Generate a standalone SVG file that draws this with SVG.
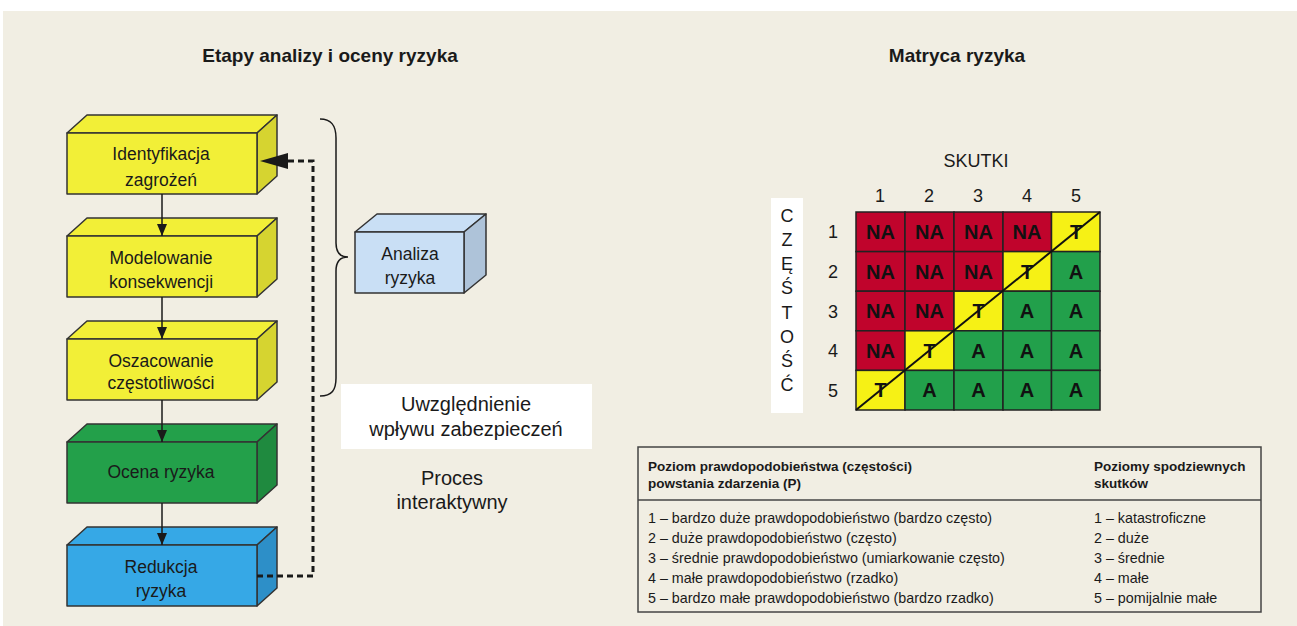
<svg xmlns="http://www.w3.org/2000/svg" width="1297" height="626" viewBox="0 0 1297 626">
<defs>
<style>
.t{font-family:"Liberation Sans",Arial,sans-serif;fill:#1a1a1a}
.title{font-size:19px;font-weight:bold;text-anchor:middle}
.nt{font-size:17.5px;text-anchor:middle}
.bx{stroke:#333;stroke-width:1.5;stroke-linejoin:round}
.y1{fill:#F2EF37}.y2{fill:#D6D430}
.g1{fill:#23A04A}.g2{fill:#1F8A3F}
.b1{fill:#36A8E6}.b2{fill:#2D8FC8}
.l1{fill:#C9DFF5}.l2{fill:#AEC3D9}
.na{fill:#C0042C}.ty{fill:#F6F115}.ag{fill:#22A04B}
.cell{stroke:#222;stroke-width:1.5}
.ct{font-size:20px;font-weight:bold;text-anchor:middle;fill:#111}
.ax{font-size:18px;text-anchor:middle}
.tb{font-size:14.3px}
.th{font-size:13.5px;font-weight:bold}
.arr{stroke:#1a1a1a;stroke-width:1.5;fill:none}
.dash{stroke:#1a1a1a;stroke-width:3;fill:none;stroke-dasharray:6 4}
</style>
<marker id="ah" viewBox="0 0 12 10" refX="12" refY="5" markerWidth="12" markerHeight="10" markerUnits="userSpaceOnUse" orient="auto">
<path d="M0,0 L12,5 L0,10 z" fill="#1a1a1a"/>
</marker>
</defs>
<rect x="0" y="0" width="1297" height="626" fill="#ffffff"/>
<rect x="3" y="11" width="1294" height="615" fill="#F1EEE3"/>

<text class="t title" x="330" y="62">Etapy analizy i oceny ryzyka</text>
<text class="t title" x="957" y="62">Matryca ryzyka</text>

<g id="n1">
<polygon class="bx y1" points="67,133 87,115 277,115 257,133"/>
<polygon class="bx y2" points="257,133 277,115 277,176 257,194"/>
<rect class="bx y1" x="67" y="133" width="190" height="61"/>
<text class="t nt" x="161" y="160">Identyfikacja</text>
<text class="t nt" x="161" y="186">zagrożeń</text>
</g>
<g id="n2">
<polygon class="bx y1" points="67,236 87,218 277,218 257,236"/>
<polygon class="bx y2" points="257,236 277,218 277,279 257,297"/>
<rect class="bx y1" x="67" y="236" width="190" height="61"/>
<text class="t nt" x="161" y="264">Modelowanie</text>
<text class="t nt" x="161" y="288">konsekwencji</text>
</g>
<g id="n3">
<polygon class="bx y1" points="67,339 87,321 277,321 257,339"/>
<polygon class="bx y2" points="257,339 277,321 277,382 257,400"/>
<rect class="bx y1" x="67" y="339" width="190" height="61"/>
<text class="t nt" x="161" y="367">Oszacowanie</text>
<text class="t nt" x="161" y="389">częstotliwości</text>
</g>
<g id="n4">
<polygon class="bx g1" points="67,442 87,424 277,424 257,442"/>
<polygon class="bx g2" points="257,442 277,424 277,485 257,503"/>
<rect class="bx g1" x="67" y="442" width="190" height="61"/>
<text class="t nt" x="161" y="478">Ocena ryzyka</text>
</g>
<g id="n5">
<polygon class="bx b1" points="67,545 87,527 277,527 257,545"/>
<polygon class="bx b2" points="257,545 277,527 277,588 257,606"/>
<rect class="bx b1" x="67" y="545" width="190" height="61"/>
<text class="t nt" x="161" y="573">Redukcja</text>
<text class="t nt" x="161" y="597">ryzyka</text>
</g>
<g id="n6">
<polygon class="bx l1" points="355,232 377,214 486,214 464,232"/>
<polygon class="bx l2" points="464,232 486,214 486,275 464,293"/>
<rect class="bx l1" x="355" y="232" width="109" height="61"/>
<text class="t nt" x="410" y="260">Analiza</text>
<text class="t nt" x="410" y="284">ryzyka</text>
</g>
<g id="brace">
<path d="M320,119 C332,119 336,126 336,138 L336,243 C336,252 340,257 348,257 C340,257 336,262 336,271 L336,378 C336,390 332,396 320,396" fill="none" stroke="#1a1a1a" stroke-width="1.5"/>
</g>
<g id="n7">
<rect x="341" y="384" width="251" height="65" fill="#ffffff"/>
<text class="t" x="466" y="411" style="font-size:20px;text-anchor:middle">Uwzględnienie</text>
<text class="t" x="466" y="436" style="font-size:20px;text-anchor:middle">wpływu zabezpieczeń</text>
</g>
<g id="n8">
<text class="t" x="452" y="485" style="font-size:20px;text-anchor:middle">Proces</text>
<text class="t" x="452" y="509" style="font-size:20px;text-anchor:middle">interaktywny</text>
</g>

<g id="connectors">
<line class="arr" x1="162" y1="194" x2="162" y2="236" marker-end="url(#ah)"/>
<line class="arr" x1="162" y1="297" x2="162" y2="339" marker-end="url(#ah)"/>
<line class="arr" x1="162" y1="400" x2="162" y2="442" marker-end="url(#ah)"/>
<line class="arr" x1="162" y1="503" x2="162" y2="545" marker-end="url(#ah)"/>
<path class="dash" d="M257,576 H313 V161 H286"/>
<polygon points="260,161 288,153 288,169" fill="#1a1a1a"/>
</g>

<g id="matrix">
<text class="t ax" x="976" y="167">SKUTKI</text>
<text class="t ax" x="880" y="202">1</text>
<text class="t ax" x="929" y="202">2</text>
<text class="t ax" x="978" y="202">3</text>
<text class="t ax" x="1027" y="202">4</text>
<text class="t ax" x="1076" y="202">5</text>
<text class="t ax" x="833" y="238">1</text>
<text class="t ax" x="833" y="278">2</text>
<text class="t ax" x="833" y="318">3</text>
<text class="t ax" x="833" y="357">4</text>
<text class="t ax" x="833" y="397">5</text>
<rect x="771" y="198" width="32" height="215" fill="#ffffff"/>
<g class="t" style="font-size:18px;text-anchor:middle">
<text x="787" y="222">C</text>
<text x="787" y="246">Z</text>
<text x="787" y="270">Ę</text>
<text x="787" y="294">Ś</text>
<text x="787" y="319">T</text>
<text x="787" y="343">O</text>
<text x="787" y="367">Ś</text>
<text x="787" y="391">Ć</text>
</g>
<g>
<rect class="cell na" x="856" y="212" width="49" height="39.6"/>
<rect class="cell na" x="905" y="212" width="49" height="39.6"/>
<rect class="cell na" x="954" y="212" width="49" height="39.6"/>
<rect class="cell na" x="1003" y="212" width="48.5" height="39.6"/>
<rect class="cell ty" x="1051.5" y="212" width="48.5" height="39.6"/>
<rect class="cell na" x="856" y="251.6" width="49" height="39.6"/>
<rect class="cell na" x="905" y="251.6" width="49" height="39.6"/>
<rect class="cell na" x="954" y="251.6" width="49" height="39.6"/>
<rect class="cell ty" x="1003" y="251.6" width="48.5" height="39.6"/>
<rect class="cell ag" x="1051.5" y="251.6" width="48.5" height="39.6"/>
<rect class="cell na" x="856" y="291.2" width="49" height="39.6"/>
<rect class="cell na" x="905" y="291.2" width="49" height="39.6"/>
<rect class="cell ty" x="954" y="291.2" width="49" height="39.6"/>
<rect class="cell ag" x="1003" y="291.2" width="48.5" height="39.6"/>
<rect class="cell ag" x="1051.5" y="291.2" width="48.5" height="39.6"/>
<rect class="cell na" x="856" y="330.8" width="49" height="39.6"/>
<rect class="cell ty" x="905" y="330.8" width="49" height="39.6"/>
<rect class="cell ag" x="954" y="330.8" width="49" height="39.6"/>
<rect class="cell ag" x="1003" y="330.8" width="48.5" height="39.6"/>
<rect class="cell ag" x="1051.5" y="330.8" width="48.5" height="39.6"/>
<rect class="cell ty" x="856" y="370.4" width="49" height="39.6"/>
<rect class="cell ag" x="905" y="370.4" width="49" height="39.6"/>
<rect class="cell ag" x="954" y="370.4" width="49" height="39.6"/>
<rect class="cell ag" x="1003" y="370.4" width="48.5" height="39.6"/>
<rect class="cell ag" x="1051.5" y="370.4" width="48.5" height="39.6"/>
</g>
<g class="t ct">
<text x="880.5" y="239">NA</text><text x="929.5" y="239">NA</text><text x="978.5" y="239">NA</text><text x="1027" y="239">NA</text><text x="1076" y="239">T</text>
<text x="880.5" y="279">NA</text><text x="929.5" y="279">NA</text><text x="978.5" y="279">NA</text><text x="1027" y="279">T</text><text x="1076" y="279">A</text>
<text x="880.5" y="318">NA</text><text x="929.5" y="318">NA</text><text x="978.5" y="318">T</text><text x="1027" y="318">A</text><text x="1076" y="318">A</text>
<text x="880.5" y="358">NA</text><text x="929.5" y="358">T</text><text x="978.5" y="358">A</text><text x="1027" y="358">A</text><text x="1076" y="358">A</text>
<text x="880.5" y="397">T</text><text x="929.5" y="397">A</text><text x="978.5" y="397">A</text><text x="1027" y="397">A</text><text x="1076" y="397">A</text>
</g>
<line x1="856" y1="410" x2="1100" y2="212" stroke="#111" stroke-width="2"/>
</g>

<g id="table">
<rect x="638" y="447" width="623" height="165" fill="none" stroke="#444" stroke-width="1.5"/>
<line x1="638" y1="500" x2="1261" y2="500" stroke="#444" stroke-width="1.5"/>
<text class="t th" x="648" y="471">Poziom prawdopodobieństwa (częstości)</text>
<text class="t th" x="648" y="488">powstania zdarzenia (P)</text>
<text class="t th" x="1094" y="471">Poziomy spodziewnych</text>
<text class="t th" x="1094" y="488">skutków</text>
<text class="t tb" x="648" y="523">1 – bardzo duże prawdopodobieństwo (bardzo często)</text>
<text class="t tb" x="648" y="543">2 – duże prawdopodobieństwo (często)</text>
<text class="t tb" x="648" y="563">3 – średnie prawdopodobieństwo (umiarkowanie często)</text>
<text class="t tb" x="648" y="583">4 – małe  prawdopodobieństwo (rzadko)</text>
<text class="t tb" x="648" y="603">5 – bardzo małe prawdopodobieństwo (bardzo rzadko)</text>
<text class="t tb" x="1094" y="523">1 – katastroficzne</text>
<text class="t tb" x="1094" y="543">2 – duże</text>
<text class="t tb" x="1094" y="563">3 – średnie</text>
<text class="t tb" x="1094" y="583">4 – małe</text>
<text class="t tb" x="1094" y="603">5 – pomijalnie małe</text>
</g>
</svg>
